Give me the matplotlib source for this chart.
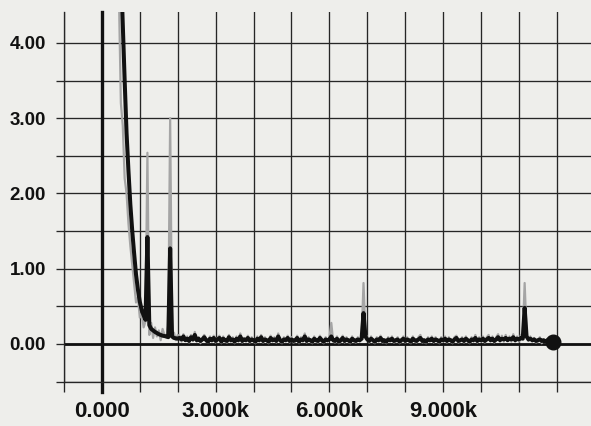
import numpy as np
import matplotlib
matplotlib.use("Agg")
import matplotlib.pyplot as plt
from matplotlib.ticker import MultipleLocator, FuncFormatter

# training loss curve, raw (light) and smoothed (dark)
# head of the run, explicit steps
raw_head_steps = [420, 460, 500, 550, 600, 650, 700, 750, 800, 850, 900, 950, 1000, 1050,
                  1100, 1150, 1200, 1250, 1300, 1350, 1400, 1450, 1500, 1550, 1600, 1650,
                  1700, 1750, 1800, 1850, 1900, 1950, 2000]
raw_head = [6.0, 4.3, 3.2, 2.9, 2.2, 2.0, 1.6, 1.3, 1.05, 0.8, 0.55, 0.62, 0.35, 0.4,
            0.22, 0.3, 2.54, 0.12, 0.28, 0.08, 0.22, 0.1, 0.18, 0.05, 0.2, 0.12,
            0.08, 0.25, 3.0, 0.1, 0.15, 0.05, 0.12]

smooth_head_steps = [480, 540, 600, 650, 700, 750, 800, 850, 900, 950, 1000, 1050, 1100,
                     1150, 1200, 1250, 1300, 1400, 1500, 1600, 1700, 1750, 1800, 1850,
                     1900, 2000]
smooth_head = [6.0, 4.4, 3.5, 2.8, 2.3, 1.85, 1.5, 1.2, 0.92, 0.72, 0.56, 0.45, 0.38,
               0.32, 1.42, 0.25, 0.2, 0.16, 0.13, 0.11, 0.1, 0.09, 1.27, 0.1, 0.08, 0.07]

# rest of the run, one value every 50 steps from 2050 to 11900
tail_steps = np.arange(2050, 11950, 50)
raw_tail = [0.11, 0.03, 0.13, 0.04, 0.1, 0.02, 0.12, 0.04, 0.16, 0.03, 0.09, 0.01, 0.08, 0.12, 0.03, 0.02, 0.1, 0.03, 0.11,
            0.02, 0.08, 0.11, 0.01, 0.1, 0.03, 0.02, 0.12, 0.03, 0.09, 0.01, 0.1, 0.03, 0.14, 0.02, 0.08, 0.03, 0.11, 0.02, 0.09,
            0.03, 0.01, 0.1, 0.03, 0.12, 0.02, 0.09, 0.03, 0.01, 0.11, 0.03, 0.09, 0.02, 0.14, 0.03, 0.01, 0.09, 0.03, 0.11, 0.02,
            0.09, 0.02, 0.03, 0.11, 0.01, 0.09, 0.03, 0.14, 0.02, 0.09, 0.03, 0.01, 0.1, 0.03, 0.02, 0.11, 0.03, 0.01, 0.09, 0.03,
            0.08, 0.28, 0.03, 0.02, 0.1, 0.01, 0.03, 0.11, 0.02, 0.09, 0.03, 0.01, 0.1, 0.03, 0.02, 0.09, 0.03, 0.1, 0.81, 0.13,
            0.09, 0.02, 0.1, 0.03, 0.01, 0.09, 0.03, 0.11, 0.02, 0.03, 0.01, 0.09, 0.03, 0.1, 0.02, 0.03, 0.09, 0.01, 0.03, 0.1,
            0.02, 0.09, 0.03, 0.01, 0.1, 0.03, 0.02, 0.09, 0.12, 0.02, 0.03, 0.01, 0.09, 0.03, 0.1, 0.02, 0.09, 0.03, 0.01, 0.09,
            0.03, 0.1, 0.02, 0.09, 0.03, 0.01, 0.09, 0.11, 0.02, 0.03, 0.09, 0.02, 0.1, 0.03, 0.01, 0.09, 0.03, 0.12, 0.02, 0.09,
            0.03, 0.1, 0.02, 0.09, 0.12, 0.03, 0.1, 0.02, 0.09, 0.13, 0.03, 0.11, 0.03, 0.12, 0.04, 0.1, 0.03, 0.13, 0.03, 0.1,
            0.03, 0.12, 0.1, 0.81, 0.14, 0.04, 0.1, 0.03, 0.08, 0.02, 0.03, 0.09, 0.01, 0.04, 0.02, 0.05, 0.02, 0.02, 0.02]
smooth_tail = [0.08, 0.06, 0.1, 0.05, 0.07, 0.04, 0.09, 0.06, 0.12, 0.05, 0.07, 0.04, 0.06, 0.09, 0.05, 0.03, 0.07, 0.05, 0.08,
               0.04, 0.06, 0.08, 0.03, 0.07, 0.05, 0.04, 0.09, 0.05, 0.06, 0.03, 0.07, 0.05, 0.1, 0.04, 0.06, 0.05, 0.08, 0.04, 0.06,
               0.05, 0.03, 0.07, 0.05, 0.09, 0.04, 0.06, 0.05, 0.03, 0.08, 0.05, 0.06, 0.04, 0.1, 0.05, 0.03, 0.06, 0.05, 0.08, 0.04,
               0.06, 0.04, 0.05, 0.08, 0.03, 0.06, 0.05, 0.1, 0.04, 0.06, 0.05, 0.03, 0.07, 0.05, 0.04, 0.08, 0.05, 0.03, 0.06, 0.05,
               0.06, 0.1, 0.05, 0.04, 0.07, 0.03, 0.05, 0.08, 0.04, 0.06, 0.05, 0.03, 0.07, 0.05, 0.04, 0.06, 0.05, 0.07, 0.41, 0.1,
               0.06, 0.04, 0.07, 0.05, 0.03, 0.06, 0.05, 0.08, 0.04, 0.05, 0.03, 0.06, 0.05, 0.07, 0.04, 0.05, 0.06, 0.03, 0.05, 0.07,
               0.04, 0.06, 0.05, 0.03, 0.07, 0.05, 0.04, 0.06, 0.08, 0.04, 0.05, 0.03, 0.06, 0.05, 0.07, 0.04, 0.06, 0.05, 0.03, 0.06,
               0.05, 0.07, 0.04, 0.06, 0.05, 0.03, 0.06, 0.08, 0.04, 0.05, 0.06, 0.04, 0.07, 0.05, 0.03, 0.06, 0.05, 0.08, 0.04, 0.06,
               0.05, 0.07, 0.04, 0.06, 0.08, 0.05, 0.07, 0.04, 0.06, 0.09, 0.05, 0.07, 0.06, 0.08, 0.05, 0.07, 0.06, 0.09, 0.05, 0.07,
               0.06, 0.08, 0.07, 0.48, 0.1, 0.06, 0.07, 0.05, 0.06, 0.04, 0.05, 0.06, 0.04, 0.05, 0.03, 0.05, 0.04, 0.03, 0.03]

raw_steps = np.concatenate([raw_head_steps, tail_steps])
raw_vals = np.concatenate([raw_head, raw_tail])
smooth_steps = np.concatenate([smooth_head_steps, tail_steps])
smooth_vals = np.concatenate([smooth_head, smooth_tail])

x_labels = {0: "0.000", 3000: "3.000k", 6000: "6.000k", 9000: "9.000k"}

bg = "#eeeeeb"
ink = "#262626"

fig = plt.figure(figsize=(5.91, 4.26), dpi=100, facecolor=bg)
ax = fig.add_axes([64 / 591, 44.4 / 426, 1 - 64 / 591, (381.6 - 12) / 426])
ax.set_facecolor(bg)

ax.set_xlim(-1000, 12900)
ax.set_ylim(-0.5, 4.41)

ax.xaxis.set_major_locator(MultipleLocator(1000))
ax.yaxis.set_major_locator(MultipleLocator(0.5))
ax.xaxis.set_major_formatter(FuncFormatter(lambda v, p: x_labels.get(int(round(v)), "")))
ax.yaxis.set_major_formatter(
    FuncFormatter(lambda v, p: f"{v:.2f}" if v >= 0 and abs(v - round(v)) < 1e-6 else ""))

ax.grid(True, color=ink, linewidth=0.95)
ax.set_axisbelow(True)
for s in ["top", "right"]:
    ax.spines[s].set_visible(False)
for s in ["left", "bottom"]:
    ax.spines[s].set_color(ink)
    ax.spines[s].set_linewidth(0.95)

ax.tick_params(axis="x", length=7, width=0.95, color=ink, pad=7, labelcolor="#111111")
ax.tick_params(axis="y", length=6, width=0.95, color=ink, pad=7, labelcolor="#111111")
for lab in ax.get_xticklabels():
    lab.set_fontfamily("Liberation Sans")
    lab.set_fontweight("bold")
    lab.set_fontsize(16)
for lab in ax.get_yticklabels():
    lab.set_fontfamily("Liberation Sans")
    lab.set_fontweight("bold")
    lab.set_fontsize(13.5)

# zero lines
ax.axvline(0, ymin=-0.027, ymax=1, color="#111111", linewidth=2.4, clip_on=False, zorder=2)
ax.axhline(0, color="#111111", linewidth=2.0, zorder=2)

ax.plot(raw_steps, raw_vals, color="#a5a5a5", linewidth=1.6, zorder=3)
ax.plot(smooth_steps, smooth_vals, color="#111111", linewidth=2.9, zorder=4)
ax.plot(smooth_steps[-1], smooth_vals[-1], "o", color="#111111", markersize=10.5, zorder=5)

fig.savefig("out.png", dpi=100, facecolor=bg)
